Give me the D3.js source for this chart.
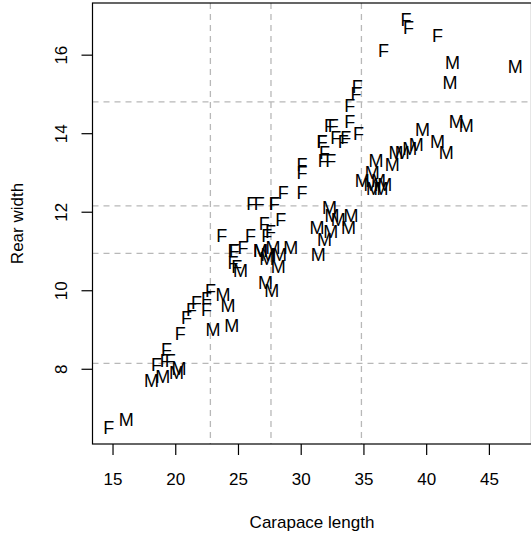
<!DOCTYPE html>
<html lang="en">
<head>
    <meta charset="UTF-8">
    <title>Crabs: rear width vs carapace length</title>
    <script src="https://d3js.org/d3.v7.min.js"></script>
    <style>
        body { margin: 0; background: #fff; }
        svg { display: block; font-family: "Liberation Sans", Arial, Helvetica, sans-serif; }
    </style>
</head>
<body>
    <svg id="chart" width="531" height="538"></svg>

    <script>
        // Female crabs: carapace length and rear width
        const femaleCL = [14.7, 19.3, 18.5, 19.2, 19.6, 20.4, 20.9, 21.3, 21.7, 22.5,
                          22.5, 22.8, 24.7, 24.6, 23.7, 24.9, 26.0, 24.6, 25.4, 26.1,
                          27.1, 26.7, 27.9, 27.3, 27.6, 27.9, 28.4, 28.6, 30.1, 30.1,
                          30.1, 31.7, 32.3, 31.8, 31.9, 31.7, 33.9, 32.6, 32.4, 33.4,
                          32.8, 33.9, 33.6, 34.4, 34.6, 34.5, 36.6, 38.4, 38.6, 40.9];
        const femaleRW = [6.5, 8.5, 8.1, 8.2, 8.2, 8.9, 9.3, 9.5, 9.7, 9.5,
                          9.8, 10.0, 11.0, 11.0, 11.4, 10.6, 11.4, 10.7, 11.1, 12.2,
                          11.7, 12.2, 12.2, 11.4, 11.5, 12.2, 11.8, 12.5, 13.0, 12.5,
                          13.2, 13.8, 14.2, 13.3, 13.5, 13.8, 14.3, 14.2, 13.3, 13.8,
                          13.9, 14.7, 13.9, 15.0, 14.0, 15.2, 16.1, 16.9, 16.7, 16.5];

        // Male crabs
        const maleCL = [16.1, 18.1, 19.0, 20.1, 20.3, 23.0, 23.8, 24.5, 24.2, 25.2,
                        27.3, 26.8, 27.7, 27.2, 27.4, 26.8, 28.2, 28.3, 27.8, 29.2,
                        31.3, 31.9, 31.4, 32.4, 32.5, 32.3, 33.0, 35.8, 34.0, 33.8,
                        34.9, 36.0, 35.6, 35.7, 38.1, 36.2, 37.3, 36.4, 36.7, 37.6,
                        38.7, 39.7, 39.2, 42.1, 41.6, 40.9, 41.9, 43.2, 42.4, 47.1];
        const maleRW = [6.7, 7.7, 7.8, 7.9, 8.0, 9.0, 9.9, 9.1, 9.6, 10.5,
                        10.8, 11.0, 10.0, 10.2, 10.9, 11.0, 10.6, 10.9, 11.1, 11.1,
                        11.6, 11.3, 10.9, 11.5, 11.9, 12.1, 11.8, 12.6, 11.9, 11.6,
                        12.8, 13.3, 12.7, 13.0, 13.5, 12.8, 13.2, 12.6, 12.7, 13.5,
                        13.6, 14.1, 13.7, 15.8, 13.5, 13.8, 15.3, 14.2, 14.3, 15.7];

        // dashed reference lines
        const gridX = [22.8, 27.63, 34.84];
        const gridY = [14.8, 12.15, 10.94, 8.14];

        const xTicks = [15, 20, 25, 30, 35, 40, 45];
        const yTicks = [8, 10, 12, 14, 16];

        const xLabel = "Carapace length";
        const yLabel = "Rear width";

        const svg = d3.select("#chart");

        // plot region (right edge sits on the picture's border)
        const plotL = 92.5, plotR = 531.5, plotT = 3, plotB = 444;

        // R style range: data extent padded by 4%
        const allCL = femaleCL.concat(maleCL);
        const allRW = femaleRW.concat(maleRW);
        const [cl0, cl1] = d3.extent(allCL);
        const [rw0, rw1] = d3.extent(allRW);
        const padX = (cl1 - cl0) * 0.04, padY = (rw1 - rw0) * 0.04;

        const x = d3.scaleLinear()
            .domain([cl0 - padX, cl1 + padX])
            .range([plotL, plotR]);

        const y = d3.scaleLinear()
            .domain([rw0 - padY, rw1 + padY])
            .range([plotB, plotT]);

        // dashed lines
        svg.append("g")
            .selectAll("line")
            .data(gridX)
            .enter().append("line")
            .attr("x1", d => x(d)).attr("x2", d => x(d))
            .attr("y1", plotT).attr("y2", plotB)
            .attr("stroke", "#b8b8b8")
            .attr("stroke-width", 1.3)
            .attr("stroke-dasharray", "6,5");

        svg.append("g")
            .selectAll("line")
            .data(gridY)
            .enter().append("line")
            .attr("x1", plotL).attr("x2", plotR)
            .attr("y1", d => y(d)).attr("y2", d => y(d))
            .attr("stroke", "#b8b8b8")
            .attr("stroke-width", 1.3)
            .attr("stroke-dasharray", "6,5");

        // points drawn as letters
        const points = femaleCL.map((d, i) => ({ cl: d, rw: femaleRW[i], sex: "F" }))
            .concat(maleCL.map((d, i) => ({ cl: d, rw: maleRW[i], sex: "M" })));

        svg.append("g")
            .selectAll("text")
            .data(points)
            .enter().append("text")
            .attr("x", d => x(d.cl))
            .attr("y", d => y(d.rw))
            .attr("dy", "0.36em")
            .attr("text-anchor", "middle")
            .attr("font-size", 18)
            .attr("fill", "#000")
            .text(d => d.sex);

        // box
        svg.append("rect")
            .attr("x", plotL).attr("y", plotT)
            .attr("width", plotR - plotL).attr("height", plotB - plotT)
            .attr("fill", "none")
            .attr("stroke", "#000")
            .attr("stroke-width", 1.2);

        // axes
        const xAxis = svg.append("g")
            .attr("transform", `translate(0, ${plotB})`)
            .call(d3.axisBottom(x).tickValues(xTicks).tickSize(11).tickSizeOuter(0));
        xAxis.select(".domain").remove();
        xAxis.selectAll("line").attr("stroke", "#000").attr("stroke-width", 1.2);
        xAxis.selectAll("text")
            .attr("y", 35)
            .attr("dy", "0.36em")
            .attr("font-size", 17)
            .attr("font-family", "Liberation Sans, Arial, sans-serif")
            .attr("fill", "#000");

        const yAxis = svg.append("g")
            .attr("transform", `translate(${plotL}, 0)`)
            .call(d3.axisLeft(y).tickValues(yTicks).tickSize(11).tickSizeOuter(0));
        yAxis.select(".domain").remove();
        yAxis.selectAll("line").attr("stroke", "#000").attr("stroke-width", 1.2);
        yAxis.selectAll("text")
            .attr("x", 0)
            .attr("y", -32)
            .attr("dy", "0.36em")
            .attr("transform", "rotate(-90)")
            .attr("text-anchor", "middle")
            .attr("font-size", 17)
            .attr("font-family", "Liberation Sans, Arial, sans-serif")
            .attr("fill", "#000");

        // axis titles
        svg.append("text")
            .attr("x", 312)
            .attr("y", 522)
            .attr("dy", "0.36em")
            .attr("text-anchor", "middle")
            .attr("font-size", 17)
            .text(xLabel);

        svg.append("text")
            .attr("transform", `translate(17, ${(plotT + plotB) / 2}) rotate(-90)`)
            .attr("dy", "0.36em")
            .attr("text-anchor", "middle")
            .attr("font-size", 17)
            .text(yLabel);
    </script>
</body>
</html>
